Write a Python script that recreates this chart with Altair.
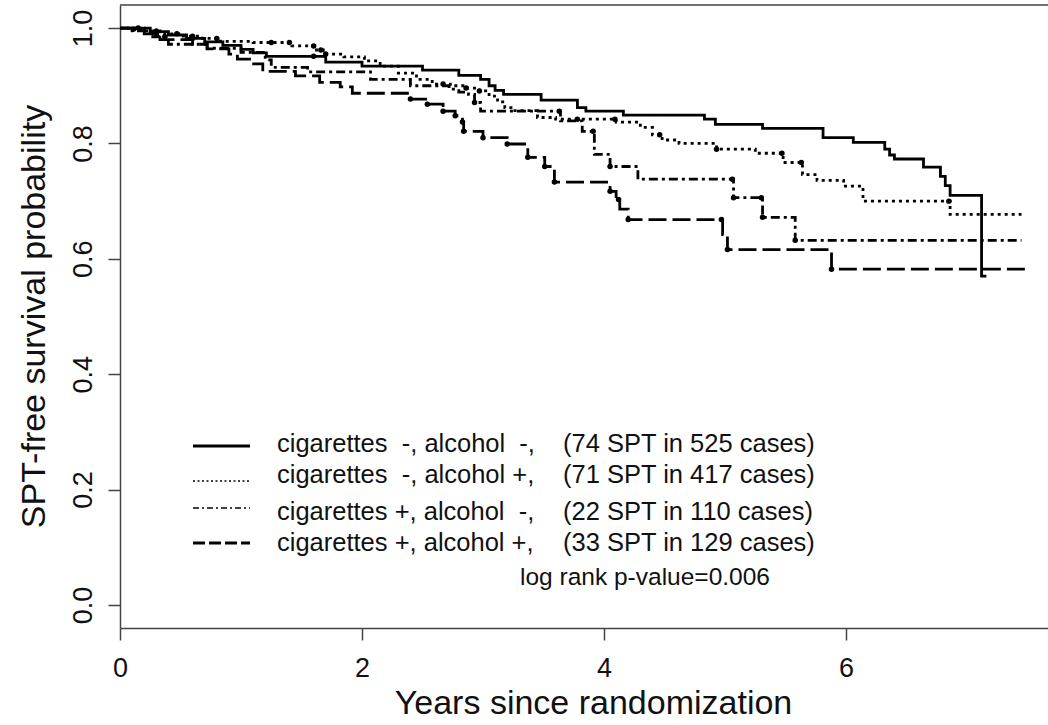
import altair as alt
import pandas as pd

# ---------------- data ----------------
groups = ["cig-/alc-", "cig-/alc+", "cig+/alc-", "cig+/alc+"]

solid_t = [0, 0.25, 0.4, 0.55, 0.7, 0.85, 1.0, 1.1, 1.21,
           1.7, 2.0, 2.5, 2.8, 2.98, 3.05, 3.1, 3.17,
           3.48, 3.78, 3.85, 4.16, 4.83, 4.92, 5.31, 5.81, 6.06,
           6.32, 6.36, 6.4, 6.64, 6.78, 6.82, 6.86, 7.12]
solid_s = [1.0, 0.994, 0.988, 0.982, 0.976, 0.970, 0.963, 0.957, 0.951,
           0.941, 0.934, 0.927, 0.918, 0.911, 0.900, 0.892, 0.885,
           0.875, 0.862, 0.856, 0.849, 0.842, 0.833, 0.826, 0.810, 0.802,
           0.790, 0.780, 0.773, 0.759, 0.743, 0.727, 0.710, 0.570]
solid_end = 7.16
solid_cens = [0.15, 0.6, 1.6]

dot_t = [0, 0.1, 0.2, 0.33, 0.5, 0.68, 0.83, 1.1, 1.42, 1.61,
         1.68, 1.85, 2.02, 2.15, 2.3, 2.45, 2.58, 2.73, 2.86, 2.97,
         3.05, 3.12, 3.18, 3.25, 3.45, 3.6, 4.1, 4.3, 4.4, 4.48,
         4.62, 4.93, 5.25, 5.48, 5.64, 5.76, 5.98, 6.14, 6.86]
dot_s = [1.0, 0.998, 0.995, 0.99, 0.986, 0.982, 0.977, 0.975, 0.969, 0.962,
         0.955, 0.95, 0.943, 0.934, 0.922, 0.911, 0.903, 0.90, 0.896, 0.891,
         0.882, 0.872, 0.862, 0.857, 0.845, 0.842, 0.837, 0.828, 0.815, 0.806,
         0.80, 0.79, 0.783, 0.767, 0.746, 0.736, 0.726, 0.70, 0.677]
dot_end = 7.45
dot_cens = [0.11, 0.3, 0.47, 0.6, 0.8, 1.25, 1.4, 1.6, 1.66, 1.7, 2.67, 2.86,
            2.97, 3.78, 4.09, 4.46, 4.93, 5.47, 5.63, 6.85]

dd_t = [0, 0.1, 0.25, 0.4, 0.72, 1.0, 1.2, 1.25, 1.55, 2.07,
        2.4, 2.72, 2.8, 2.88, 2.93, 2.98, 3.64, 3.82, 3.92, 4.05,
        4.28, 5.07, 5.31, 5.58]
dd_s = [1.0, 0.995, 0.985, 0.972, 0.965, 0.958, 0.945, 0.932, 0.924, 0.911,
        0.90, 0.894, 0.889, 0.885, 0.871, 0.856, 0.839, 0.821, 0.781, 0.76,
        0.738, 0.706, 0.672, 0.632]
dd_end = 7.45
dd_cens = [0.37, 2.93, 3.63, 3.91, 4.05, 5.06, 5.07, 5.30, 5.31, 5.58]

ld_t = [0, 0.2, 0.33, 0.6, 0.72, 0.9, 0.97, 1.07, 1.18, 1.45,
        1.65, 1.82, 1.92, 2.4, 2.54, 2.67, 2.77, 2.83, 2.84, 3.0,
        3.2, 3.37, 3.51, 3.59, 4.05, 4.1, 4.13, 4.2, 4.98, 5.02, 5.88]
ld_s = [1.0, 0.99, 0.98, 0.972, 0.964, 0.955, 0.946, 0.938, 0.925, 0.917,
        0.906, 0.898, 0.887, 0.877, 0.868, 0.856, 0.848, 0.837, 0.821, 0.81,
        0.799, 0.776, 0.76, 0.733, 0.717, 0.703, 0.686, 0.668, 0.642, 0.616, 0.582]
ld_end = 7.5
ld_cens = [0.3, 2.4, 2.54, 2.67, 2.77, 2.83, 2.84, 3.0, 3.2, 3.37, 3.51, 3.59,
           4.05, 4.12, 4.2, 4.97, 5.02, 5.88]

legend_left = ["cigarettes\u00a0 -, alcohol\u00a0 -,",
               "cigarettes\u00a0 -, alcohol +,",
               "cigarettes +, alcohol\u00a0 -,",
               "cigarettes +, alcohol +,"]
legend_right = ["(74 SPT in 525 cases)", "(71 SPT in 417 cases)",
                "(22 SPT in 110 cases)", "(33 SPT in 129 cases)"]
pvalue_text = "log rank p-value=0.006"
x_ticks = [0, 2, 4, 6]
y_ticks = [0.0, 0.2, 0.4, 0.6, 0.8, 1.0]

# ---------------- build tables ----------------
series = [(solid_t, solid_s, solid_end, solid_cens),
          (dot_t, dot_s, dot_end, dot_cens),
          (dd_t, dd_s, dd_end, dd_cens),
          (ld_t, ld_s, ld_end, ld_cens)]

line_rows, cens_rows = [], []
for g, (ts, ss, te, cs) in zip(groups, series):
    for t, s in zip(ts, ss):
        line_rows.append({"group": g, "t": t, "s": s})
    line_rows.append({"group": g, "t": te, "s": ss[-1]})
    for c in cs:
        val = ss[0]
        for t, s in zip(ts, ss):
            if t <= c:
                val = s
        cens_rows.append({"group": g, "t": c, "s": val})

lines_df = pd.DataFrame(line_rows)
cens_df = pd.DataFrame(cens_rows)

W, H = 928, 623
FONT = "Liberation Sans"
AX = "#444444"

xscale = alt.Scale(domain=[0, 7.669], nice=False, zero=False)
yscale = alt.Scale(domain=[-0.04, 1.04], nice=False, zero=False)
dashes = [[1, 0], [3, 4], [9, 4, 3, 4], [18, 6]]

xaxis = alt.Axis(values=x_ticks, format="d", title="Years since randomization",
                 grid=False, tickSize=12, tickColor=AX, tickWidth=1.5,
                 domainColor=AX, domainWidth=1.5, labelFontSize=27,
                 labelPadding=15, labelColor="#111", labelFlush=False,
                 labelOverlap=False, titleFontSize=34, titleFontWeight="normal",
                 titleColor="#111", titleX=473, titleY=85,
                 titleBaseline="alphabetic", titleAlign="center")
yaxis = alt.Axis(values=y_ticks, format=".1f", title="SPT-free survival probability",
                 grid=False, tickSize=12, tickColor=AX, tickWidth=1.5,
                 domainColor=AX, domainWidth=1.5, labelFontSize=27,
                 labelAngle=270, labelAlign="center", labelBaseline="alphabetic",
                 labelPadding=17, labelColor="#111", labelFlush=False,
                 labelOverlap=False, titleFontSize=34, titleFontWeight="normal",
                 titleColor="#111", titleAngle=270, titleX=-76, titleY=311,
                 titleBaseline="alphabetic", titleAlign="center")

lines = alt.Chart(lines_df).mark_line(interpolate="step-after", strokeWidth=2.8,
                                      color="black").encode(
    x=alt.X("t:Q", scale=xscale, axis=xaxis),
    y=alt.Y("s:Q", scale=yscale, axis=yaxis),
    strokeDash=alt.StrokeDash("group:N", scale=alt.Scale(domain=groups, range=dashes),
                              legend=None),
    detail="group:N",
)

cens = alt.Chart(cens_df).mark_circle(size=30, color="black", opacity=1).encode(
    x=alt.X("t:Q", scale=xscale),
    y=alt.Y("s:Q", scale=yscale),
)

dummy = pd.DataFrame({"a": [0]})
top_line = alt.Chart(dummy).mark_rule(color=AX, strokeWidth=1.5).encode(
    x=alt.value(0), x2=alt.value(W), y=alt.value(0))

layers = [lines, cens, top_line]

leg_y = [441, 476, 503, 538]
leg_text_y = [439, 470, 507, 538]
leg_styles = [dict(strokeWidth=2.8), dict(strokeWidth=1.6, strokeDash=[2, 2.5]),
              dict(strokeWidth=1.6, strokeDash=[6, 3, 2, 3]),
              dict(strokeWidth=2.8, strokeDash=[12, 4])]
for i in range(4):
    layers.append(alt.Chart(dummy).mark_rule(color="black", **leg_styles[i]).encode(
        x=alt.value(73), x2=alt.value(130), y=alt.value(leg_y[i])))
    layers.append(alt.Chart(dummy).mark_text(align="left", baseline="middle",
                                             fontSize=25.5, color="#111", font=FONT).encode(
        x=alt.value(157), y=alt.value(leg_text_y[i]), text=alt.value(legend_left[i])))
    layers.append(alt.Chart(dummy).mark_text(align="left", baseline="middle",
                                             fontSize=25.5, color="#111", font=FONT).encode(
        x=alt.value(443), y=alt.value(leg_text_y[i]), text=alt.value(legend_right[i])))

layers.append(alt.Chart(dummy).mark_text(align="left", baseline="middle",
                                         fontSize=24.5, color="#111", font=FONT).encode(
    x=alt.value(400), y=alt.value(573), text=alt.value(pvalue_text)))

chart = alt.layer(*layers).properties(
    width=W, height=H,
    autosize=alt.AutoSizeParams(type="none"),
    padding={"left": 120, "top": 5, "right": 0, "bottom": 97},
).configure(font=FONT).configure_view(stroke="transparent")

chart.save("out.html", embed_options={"renderer": "svg", "actions": False})
